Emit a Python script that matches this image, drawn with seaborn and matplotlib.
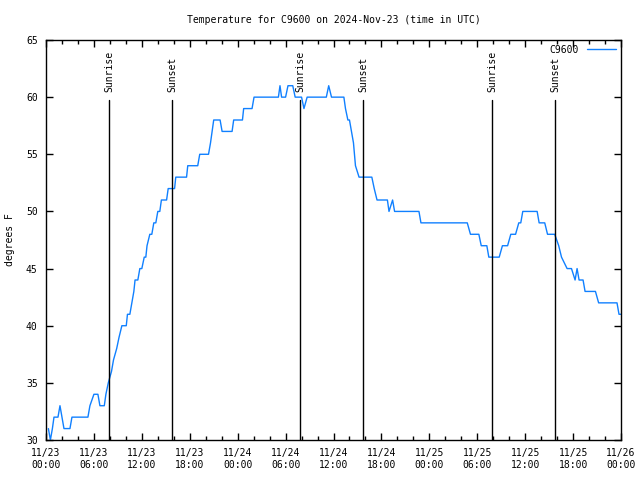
#!/usr/bin/env python
"""Temperature for C9600, 2024-Nov-23, gnuplot style"""
import matplotlib
matplotlib.use('Agg')
import matplotlib.pyplot as plt
import matplotlib.dates as mdates
import numpy as np
import pandas as pd
import seaborn as sns

sns.set_style('ticks')
plt.rcParams['font.family'] = ['DejaVu Sans Mono']
plt.rcParams['font.size'] = 7
for k in ['text.color', 'axes.labelcolor', 'xtick.color', 'ytick.color']:
    plt.rcParams[k] = 'black'

START = pd.Timestamp('2024-11-23 00:00')

# hours since 11/23 00:00 UTC and temperature (F)
hours = [0.3, 0.55, 0.8, 1.0, 1.5, 1.75, 2.25, 3.0, 3.25, 5.25, 5.5, 6.0, 6.5,
         6.75, 7.3, 7.5, 7.8, 8.2, 8.45, 8.85, 9.15, 9.5, 10.05, 10.2, 10.5,
         10.75, 11.0, 11.15, 11.5, 11.75, 12.0, 12.3, 12.5, 12.65, 13.0, 13.25,
         13.5, 13.75, 14.0, 14.25, 14.45, 15.1, 15.3, 16.1, 16.25, 17.6, 17.75,
         19.0, 19.25, 20.35, 20.6, 20.8, 21.0, 21.8, 22.05, 23.3, 23.5, 24.6,
         24.75, 25.8, 26.05, 29.1, 29.3, 29.5, 30.0, 30.3, 30.9, 31.2, 32.0,
         32.3, 32.7, 35.1, 35.4, 35.75, 37.3, 37.5, 37.8, 38.0, 38.25, 38.5,
         38.75, 39.2, 40.8, 41.1, 41.45, 42.75, 42.95, 43.4, 43.65, 46.7,
         46.95, 52.75, 53.15, 54.2, 54.5, 55.2, 55.45, 56.75, 57.15, 57.8,
         58.2, 58.8, 59.2, 59.45, 59.7, 61.5, 61.75, 62.45, 62.8, 63.7, 64.2,
         64.55, 65.25, 65.8, 66.25, 66.5, 66.75, 67.25, 67.5, 68.8, 69.2,
         71.5, 71.75, 72.0]
temps = [31, 30, 31, 32, 32, 33, 31, 31, 32, 32, 33, 34, 34,
         33, 33, 34, 35, 36, 37, 38, 39, 40, 40, 41, 41,
         42, 43, 44, 44, 45, 45, 46, 46, 47, 48, 48,
         49, 49, 50, 50, 51, 51, 52, 52, 53, 53, 54,
         54, 55, 55, 56, 57, 58, 58, 57, 57, 58, 58,
         59, 59, 60, 60, 61, 60, 60, 61, 61, 60, 60,
         59, 60, 60, 61, 60, 60, 59, 58, 58, 57, 56,
         54, 53, 53, 52, 51, 51, 50, 51, 50, 50,
         49, 49, 48, 48, 47, 47, 46, 46, 47, 47,
         48, 48, 49, 49, 50, 50, 49, 49, 48, 48, 47,
         46, 45, 45, 44, 45, 44, 44, 43, 43, 42,
         42, 41, 41]

# sunrise / sunset times (hours since start)
sun_hours = [7.89, 15.78, 31.83, 39.69, 55.85, 63.74]
sun_labels = ['Sunrise', 'Sunset', 'Sunrise', 'Sunset', 'Sunrise', 'Sunset']

df = pd.DataFrame({'time': START + pd.to_timedelta(hours, unit='h'),
                   'temp': temps})

fig = plt.figure(figsize=(6.4, 4.8), dpi=100)
ax = fig.add_axes([46 / 640, 40 / 480, 575 / 640, 400 / 480])

sns.lineplot(data=df, x='time', y='temp', ax=ax, color='#1080ff',
             linewidth=1, label='C9600')

for h, lab in zip(sun_hours, sun_labels):
    t = START + pd.Timedelta(hours=h)
    ax.axvline(t, ymin=0, ymax=0.85, color='black', linewidth=1)
    ax.text(t, 0.87, lab, transform=ax.get_xaxis_transform(), rotation=90,
            ha='center', va='bottom', fontsize=7)

ax.set_xlim(START, START + pd.Timedelta(hours=72))
ax.set_ylim(30, 65)
ax.set_yticks(np.arange(30, 66, 5))
ax.xaxis.set_major_locator(mdates.HourLocator(byhour=[0, 6, 12, 18]))
ax.xaxis.set_minor_locator(mdates.HourLocator(interval=2))
ax.xaxis.set_major_formatter(mdates.DateFormatter('%m/%d\n%H:%M'))
ax.tick_params(axis='both', which='both', direction='in', top=True,
               right=True, labelsize=7, width=1, pad=6)
ax.tick_params(which='major', length=5)
ax.tick_params(which='minor', length=3)
for sp in ax.spines.values():
    sp.set_linewidth(1)
    sp.set_color('black')

ax.set_xlabel('')
ax.set_ylabel('degrees F', fontsize=7, labelpad=8)
ax.set_title('Temperature for C9600 on 2024-Nov-23 (time in UTC)',
             fontsize=7, pad=12)
ax.legend(loc='upper right', frameon=False, markerfirst=False, fontsize=7,
          handlelength=3, borderaxespad=0.1)

fig.savefig('out.png', dpi=100)
plt.close()
